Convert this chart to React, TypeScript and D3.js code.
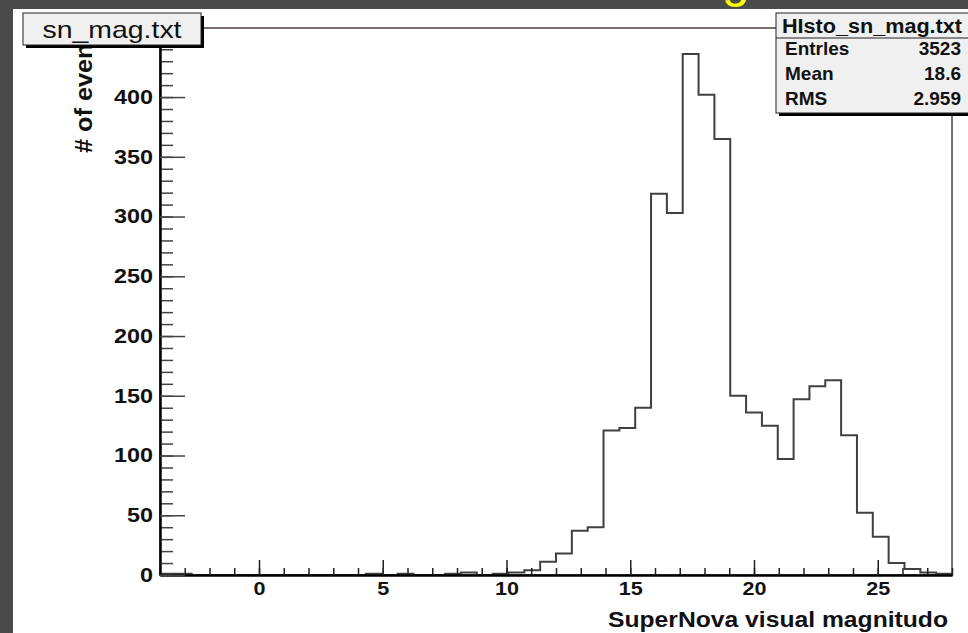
import React, { useEffect, useRef } from "react"
import * as d3 from "d3"

// histogram of sn_mag.txt : 50 bins between -4 and 28
const xRange = [-4, 28]
const nBins = 50
const counts = [1, 1, 0, 0, 0, 0, 0, 0, 0, 0, 0, 0, 0, 1, 0, 1, 0, 0, 1, 2,
  0, 1, 2, 4, 11, 18, 37, 40, 121, 123, 140, 319, 303, 436, 402, 365, 150, 136, 125, 97,
  147, 158, 163, 117, 52, 32, 10, 5, 2, 1]
const yMax = 457.8
const xMajorTicks = [0, 5, 10, 15, 20, 25]
const yMajorTicks = [0, 50, 100, 150, 200, 250, 300, 350, 400]

const histTitle = "sn_mag.txt"
const statTitle = "HIsto_sn_mag.txt"
const statNames = ["Entrles", "Mean", "RMS"]
const statValues = ["3523", "18.6", "2.959"]
const xTitle = "SuperNova visual magnitudo"
const yTitle = "# of events"

const W = 968, H = 633
const frame = { left: 160, right: 952, top: 28, bottom: 575 }
const FONT = "'Liberation Sans', Arial, Helvetica, sans-serif"

export default function App() {
  const ref = useRef<SVGSVGElement>(null)

  useEffect(() => {
    const svg = d3.select(ref.current)
    svg.selectAll("*").remove()

    const x = d3.scaleLinear().domain(xRange).range([frame.left, frame.right])
    const y = d3.scaleLinear().domain([0, yMax]).range([frame.bottom, frame.top])
    const binEdge = d3.scaleLinear().domain([0, nBins]).range(xRange)

    // background : dark screen and white canvas
    svg.append("rect").attr("width", W).attr("height", H).attr("fill", "#4a4a4a")
    // slide title, only the tail of the "g" shows at the top edge
    svg.append("text").attr("x", 722).attr("y", -3).attr("font-family", FONT).attr("font-size", 50)
      .attr("fill", "#ffff00").text("g")
    svg.append("rect").attr("x", 13).attr("y", 9).attr("width", W - 13).attr("height", H - 9).attr("fill", "white")

    // frame
    svg.append("rect").attr("x", frame.left).attr("y", frame.top)
      .attr("width", frame.right - frame.left).attr("height", frame.bottom - frame.top)
      .attr("fill", "none").attr("stroke", "#4a4040").attr("stroke-width", 1.5)

    // histogram outline
    const pts: [number, number][] = [[binEdge(0), 0]]
    counts.forEach((c, i) => { pts.push([binEdge(i), c]); pts.push([binEdge(i + 1), c]) })
    pts.push([binEdge(nBins), 0])
    const line = d3.line<[number, number]>().x(d => x(d[0])).y(d => y(d[1]))
    svg.append("path").attr("d", line(pts)).attr("fill", "none")
      .attr("stroke", "#404040").attr("stroke-width", 2)

    // x axis : minor ticks each unit, major each 5
    const gx = svg.append("g").attr("transform", `translate(0,${frame.bottom})`)
    gx.append("g").call(d3.axisBottom(x).tickValues(d3.range(-3, 29)).tickSize(-7).tickSizeOuter(0).tickFormat(() => ""))
    gx.append("g").call(d3.axisBottom(x).tickValues(xMajorTicks).tickSize(-15).tickSizeOuter(0).tickPadding(7)
      .tickFormat(d3.format("d")))
    gx.selectAll("path.domain").attr("stroke", "black").attr("stroke-width", 2)
    gx.selectAll(".tick line").attr("stroke", "#222").attr("stroke-width", 1.5)
    gx.selectAll("text").attr("font-family", FONT).attr("font-size", 18).attr("font-weight", "bold")
      .attr("fill", "#111").attr("textLength", function () { return 12 * (this as SVGTextElement).textContent!.length })
      .attr("lengthAdjust", "spacingAndGlyphs")

    // y axis : minor ticks each 10, major each 50
    const gy = svg.append("g").attr("transform", `translate(${frame.left},0)`)
    gy.append("g").call(d3.axisLeft(y).tickValues(d3.range(0, 460, 10)).tickSize(-13).tickSizeOuter(0).tickFormat(() => ""))
    gy.append("g").call(d3.axisLeft(y).tickValues(yMajorTicks).tickSize(-25).tickSizeOuter(0).tickPadding(7)
      .tickFormat(d3.format("d")))
    gy.selectAll("path.domain").attr("stroke", "black").attr("stroke-width", 2)
    gy.selectAll(".tick line").attr("stroke", "#444").attr("stroke-width", 1.5)
    gy.selectAll("text").attr("font-family", FONT).attr("font-size", 20).attr("font-weight", "bold")
      .attr("fill", "#111").attr("textLength", function () { return 13 * (this as SVGTextElement).textContent!.length })
      .attr("lengthAdjust", "spacingAndGlyphs")

    // axis titles
    svg.append("text").attr("x", frame.right - 4).attr("y", 627).attr("text-anchor", "end")
      .attr("font-family", FONT).attr("font-size", 22).attr("font-weight", "bold").attr("fill", "#111")
      .attr("textLength", 340).attr("lengthAdjust", "spacingAndGlyphs").text(xTitle)
    svg.append("text").attr("transform", "translate(92,153) rotate(-90)")
      .attr("font-family", FONT).attr("font-size", 24).attr("font-weight", "bold").attr("fill", "#111")
      .attr("textLength", 132).attr("lengthAdjust", "spacingAndGlyphs").text(yTitle)

    // title box
    svg.append("rect").attr("x", 26).attr("y", 16).attr("width", 178).attr("height", 32).attr("fill", "black")
    svg.append("rect").attr("x", 23).attr("y", 13).attr("width", 178).attr("height", 32)
      .attr("fill", "#f0f0f0").attr("stroke", "#222").attr("stroke-width", 1)
    svg.append("text").attr("x", 112).attr("y", 38).attr("text-anchor", "middle")
      .attr("font-family", FONT).attr("font-size", 24).attr("fill", "#111")
      .attr("textLength", 139).attr("lengthAdjust", "spacingAndGlyphs").text(histTitle)

    // stats box
    svg.append("rect").attr("x", 779).attr("y", 16).attr("width", 200).attr("height", 100).attr("fill", "black")
    svg.append("rect").attr("x", 776).attr("y", 13).attr("width", 200).attr("height", 100)
      .attr("fill", "#f0f0f0").attr("stroke", "#222").attr("stroke-width", 1)
    svg.append("line").attr("x1", 776).attr("x2", 976).attr("y1", 38).attr("y2", 38).attr("stroke", "#222")
    svg.append("text").attr("x", 782).attr("y", 33)
      .attr("font-family", FONT).attr("font-size", 20).attr("font-weight", "bold").attr("fill", "#111")
      .attr("textLength", 180).attr("lengthAdjust", "spacingAndGlyphs").text(statTitle)
    statNames.forEach((name, i) => {
      const by = 55 + i * 25
      svg.append("text").attr("x", 785).attr("y", by)
        .attr("font-family", FONT).attr("font-size", 19).attr("font-weight", "bold").attr("fill", "#111").text(name)
      svg.append("text").attr("x", 961).attr("y", by).attr("text-anchor", "end")
        .attr("font-family", FONT).attr("font-size", 19).attr("font-weight", "bold").attr("fill", "#111").text(statValues[i])
    })
  }, [])

  return (
    <svg ref={ref} width={W} height={H} style={{ position: "absolute", left: 0, top: 0, display: "block" }} />
  )
}
